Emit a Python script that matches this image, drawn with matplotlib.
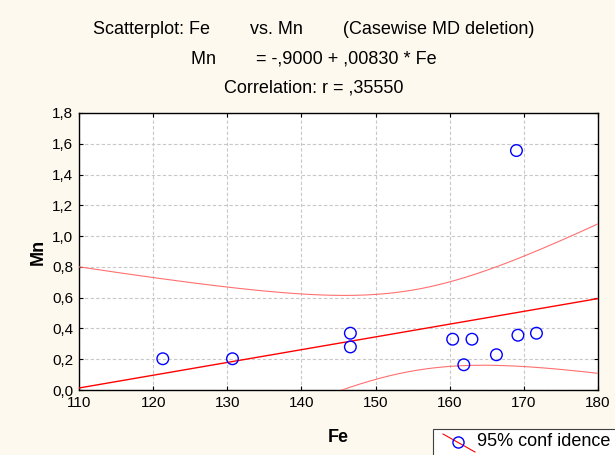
import numpy as np
import matplotlib
matplotlib.use("Agg")
import matplotlib.pyplot as plt
from matplotlib.patches import Rectangle
from matplotlib.lines import Line2D
from matplotlib.ticker import FuncFormatter

plt.rcParams['font.family'] = ['Liberation Sans', 'DejaVu Sans']

# values
fe = np.array([121.3, 130.7, 146.6, 146.6, 160.4, 161.9, 163.0, 166.3, 169.0, 169.2, 171.7])
mn = np.array([0.203, 0.203, 0.369, 0.280, 0.330, 0.164, 0.330, 0.229, 1.556, 0.356, 0.369])

# coefficients printed in the chart title
intercept = -0.9000
slope = 0.00830

x_ticks = [110, 120, 130, 140, 150, 160, 170, 180]
y_ticks = [0.0, 0.2, 0.4, 0.6, 0.8, 1.0, 1.2, 1.4, 1.6, 1.8]

title_lines = [
    "Scatterplot: Fe        vs. Mn        (Casewise MD deletion)",
    "Mn        = -,9000 + ,00830 * Fe",
    "Correlation: r = ,35550",
]

BG = "#fdf9ee"
T_95 = 2.262  # t quantile, df = 9

# 95% confidence band for the regression mean
n = len(fe)
resid = mn - (intercept + slope * fe)
s = np.sqrt(np.sum(resid ** 2) / (n - 2))
sxx = np.sum((fe - fe.mean()) ** 2)
xs = np.linspace(110, 180, 300)
fit = intercept + slope * xs
half = T_95 * s * np.sqrt(1.0 / n + (xs - fe.mean()) ** 2 / sxx)

fig = plt.figure(figsize=(6.15, 4.55), dpi=100, facecolor=BG)
ax = fig.add_axes([79 / 615, 1 - 390 / 455, (598 - 79) / 615, (390 - 113) / 455])
ax.set_facecolor("white")

ax.plot(xs, fit, color="red", lw=1.0, zorder=3)
ax.plot(xs, fit + half, color="#ff7070", lw=0.8, zorder=3)
ax.plot(xs, fit - half, color="#ff7070", lw=0.8, zorder=3)
ax.scatter(fe, mn, s=70, facecolors="none", edgecolors="blue", linewidths=1.0, zorder=4)

ax.set_xlim(110, 180)
ax.set_ylim(0, 1.8)
ax.set_xticks(x_ticks)
ax.set_yticks(y_ticks)
ax.yaxis.set_major_formatter(FuncFormatter(lambda v, p: f"{v:.1f}".replace(".", ",")))
ax.tick_params(direction="in", length=3, labelsize=11, top=True, right=True,
               labeltop=False, labelright=False, pad=4)
ax.grid(True, color="#c8c8c8", linestyle=(0, (3, 2)), lw=0.8)
for sp in ax.spines.values():
    sp.set_color("black")
    sp.set_linewidth(1.0)

ax.set_xlabel("Fe", fontsize=13, fontweight="bold", labelpad=14)
ax.set_ylabel("Mn", fontsize=13, fontweight="bold", labelpad=4)

for i, line in enumerate(title_lines):
    fig.text(314 / 615, 1 - (30 + 29 * i) / 455, line, ha="center", va="center", fontsize=13)

# legend box, cut by the figure edge like the original
fig.patches.append(Rectangle((433 / 615, 1 - 470 / 455), 200 / 615, 41 / 455,
                             transform=fig.transFigure, facecolor="white",
                             edgecolor="#404040", lw=0.8, figure=fig))
fig.lines.append(Line2D([443 / 615, 475 / 615], [1 - 434 / 455, 1 - 452 / 455],
                        transform=fig.transFigure, color="red", lw=0.8, figure=fig))
fig.lines.append(Line2D([458 / 615], [1 - 442 / 455], transform=fig.transFigure,
                        marker="o", ms=8, mfc="none", mec="blue", lw=0, figure=fig))
fig.text(477 / 615, 1 - 441 / 455, "95% conf idence", fontsize=13, va="center", ha="left")

fig.savefig("out.png", dpi=100, facecolor=BG)
